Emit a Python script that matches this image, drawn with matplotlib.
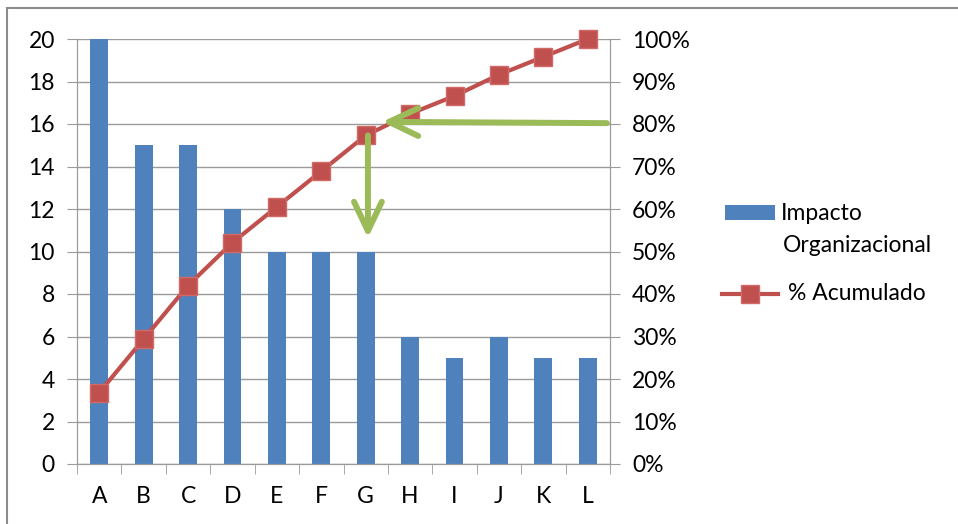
import matplotlib
matplotlib.use("Agg")
import matplotlib.pyplot as plt
from matplotlib.patches import Rectangle
from matplotlib.lines import Line2D

categorias = ["A", "B", "C", "D", "E", "F", "G", "H", "I", "J", "K", "L"]
impacto = [20, 15, 15, 12, 10, 10, 10, 6, 5, 6, 5, 5]
acumulado = [16.8, 29.4, 42.0, 52.1, 60.5, 68.9, 77.3, 82.4, 86.6, 91.6, 95.8, 100.0]

azul = "#4F81BD"
rojo = "#C0504D"
verde = "#9BBB59"
gris = "#9A9A9A"
fs = 16.5

plt.rcParams['font.family'] = ['Lato', 'DejaVu Sans']

fig = plt.figure(figsize=(9.58, 5.24), dpi=100)
fig.patches.append(Rectangle((7/958, -0.01), 1.0, (524-8)/524 + 0.01, transform=fig.transFigure,
                             fill=False, edgecolor="#8C8C8C", lw=1.5))

ax = fig.add_axes([77/958, 60/524, 533/958, 425/524])
x = list(range(len(categorias)))
ax.bar(x, impacto, width=0.4, color=azul, zorder=2)
ax.set_xlim(-0.5, len(categorias) - 0.5)
ax.set_ylim(0, 20)
ax.set_yticks(range(0, 21, 2))
ax.yaxis.grid(True, color=gris, lw=1)
ax.set_axisbelow(True)
ax.set_xticks(x)
ax.set_xticklabels(categorias)
ax.set_xticks([i - 0.5 for i in range(len(categorias) + 1)], minor=True)
ax.tick_params(axis='x', which='major', length=0, pad=16, labelsize=fs)
ax.tick_params(axis='x', which='minor', length=7, color=gris)
ax.tick_params(axis='y', length=7, color=gris, labelsize=fs, pad=9)
ax.spines['top'].set_visible(False)
for s in ['left', 'bottom', 'right']:
    ax.spines[s].set_color(gris)

ax2 = ax.twinx()
ax2.plot(x, acumulado, color=rojo, lw=3, marker='s', markersize=13,
         markerfacecolor=rojo, markeredgecolor="#D06A67", zorder=3, clip_on=False)
ax2.set_ylim(0, 100)
ax2.set_yticks(range(0, 101, 10))
ax2.set_yticklabels([f"{v}%" for v in range(0, 101, 10)])
ax2.tick_params(axis='y', length=7, color=gris, labelsize=fs, pad=9)
ax2.spines['top'].set_visible(False)
for s in ['left', 'bottom', 'right']:
    ax2.spines[s].set_color(gris)

# flechas verdes
flecha = dict(arrowstyle='->, head_length=1.05, head_width=0.5', color=verde,
              lw=4.3, mutation_scale=20, shrinkA=0, shrinkB=0)
ax2.annotate("", xy=(6.37, 80.5), xytext=(11.43, 80.2), arrowprops=flecha)
ax2.annotate("", xy=(6.05, 53.2), xytext=(6.05, 77.3), arrowprops=flecha)

# leyenda
def fx(px):
    return px / 958

def fy(py):
    return 1 - py / 524

fig.patches.append(Rectangle((fx(725), fy(220)), 50/958, 15/524, transform=fig.transFigure,
                             facecolor=azul, edgecolor='none'))
fig.text(fx(781), fy(213), "Impacto", fontsize=fs, va='center', ha='left')
fig.text(fx(783), fy(245), "Organizacional", fontsize=fs, va='center', ha='left')
fig.add_artist(Line2D([fx(722), fx(778)], [fy(294), fy(294)], transform=fig.transFigure,
                      color=rojo, lw=3))
fig.add_artist(Line2D([fx(750)], [fy(294)], transform=fig.transFigure, marker='s',
                      markersize=13, markerfacecolor=rojo, markeredgecolor="#D06A67"))
fig.text(fx(788), fy(294), "% Acumulado", fontsize=fs, va='center', ha='left')

fig.savefig("out.png", dpi=100)
